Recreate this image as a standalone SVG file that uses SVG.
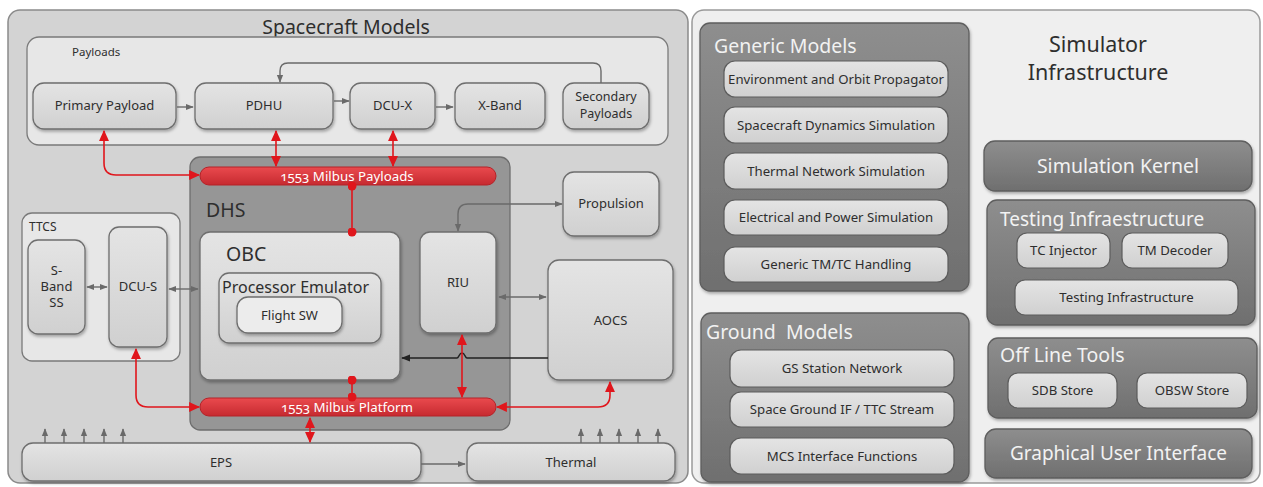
<svg xmlns="http://www.w3.org/2000/svg" width="1263" height="487" viewBox="0 0 1263 487">
  <defs>
    <linearGradient id="gNode" x1="0" y1="0" x2="0" y2="1">
      <stop offset="0" stop-color="#e4e4e4"/>
      <stop offset="1" stop-color="#d0d0d0"/>
    </linearGradient>
    <linearGradient id="gDark" x1="0" y1="0" x2="0" y2="1">
      <stop offset="0" stop-color="#8e8e8e"/>
      <stop offset="1" stop-color="#6f6f6f"/>
    </linearGradient>
    <linearGradient id="gBus" x1="0" y1="0" x2="0" y2="1">
      <stop offset="0" stop-color="#ea4a4e"/>
      <stop offset="1" stop-color="#c62a30"/>
    </linearGradient>
    <filter id="shadow" x="-10%" y="-10%" width="120%" height="130%">
      <feDropShadow dx="1" dy="2" stdDeviation="1.5" flood-color="#000" flood-opacity="0.3"/>
    </filter>
    <marker id="aGray" viewBox="0 0 10 10" refX="9" refY="5" markerWidth="8" markerHeight="8" markerUnits="userSpaceOnUse" orient="auto-start-reverse">
      <path d="M0,1 L10,5 L0,9 z" fill="#6a6a6a"/>
    </marker>
    <marker id="aRed" viewBox="0 0 10 10" refX="9" refY="5" markerWidth="11" markerHeight="11" markerUnits="userSpaceOnUse" orient="auto-start-reverse">
      <path d="M0,0.5 L10,5 L0,9.5 z" fill="#e0161c"/>
    </marker>
    <marker id="aBlack" viewBox="0 0 10 10" refX="9" refY="5" markerWidth="9" markerHeight="9" markerUnits="userSpaceOnUse" orient="auto-start-reverse">
      <path d="M0,1 L10,5 L0,9 z" fill="#222"/>
    </marker>
    <marker id="dotRed" viewBox="0 0 10 10" refX="5" refY="5" markerWidth="9" markerHeight="9" markerUnits="userSpaceOnUse">
      <circle cx="5" cy="5" r="5" fill="#e0161c"/>
    </marker>
  </defs>
  <style>
    text { font-family: "Noto Sans", "Open Sans", sans-serif; fill: #2e2e2e; }
    .panel { fill: #d3d3d3; stroke: #8a8a8a; stroke-width: 1.5; }
    .panelR { fill: #efefef; stroke: #9a9a9a; stroke-width: 1.5; }
    .group { fill: #e7e7e7; stroke: #7a7a7a; stroke-width: 1.3; }
    .node { fill: url(#gNode); stroke: #6e6e6e; stroke-width: 1.3; filter: url(#shadow); }
    .dhs { fill: #969696; stroke: #6e6e6e; stroke-width: 1.3; }
    .dark { fill: url(#gDark); stroke: #5e5e5e; stroke-width: 1.3; filter: url(#shadow); }
    .item { fill: url(#gNode); stroke: #5c5c5c; stroke-width: 1.2; }
    .bus { fill: url(#gBus); stroke: #b52228; stroke-width: 1; }
    .lbl { font-size: 13px; text-anchor: middle; }
    .itm { font-size: 13.2px; text-anchor: middle; }
    .ttl { font-size: 19.5px; }
    .hd { font-size: 19.5px; fill: #f2f2f2; }
    .bt { font-size: 13.3px; fill: #fff; text-anchor: middle; font-variant-numeric: oldstyle-nums; }
    .gray { fill: none; stroke: #6a6a6a; stroke-width: 1.4; }
    .red { fill: none; stroke: #e0161c; stroke-width: 1.6; }
    .blk { fill: none; stroke: #222; stroke-width: 1.4; }
  </style>

  <!-- Spacecraft Models panel -->
  <g id="spacecraft-models">
    <rect class="panel" x="8" y="10" width="680" height="473" rx="12"/>
    <text x="346" y="34" class="ttl" text-anchor="middle">Spacecraft Models</text>
  </g>

  <!-- Payloads group -->
  <g id="payloads">
    <rect class="group" x="27" y="37" width="641" height="108" rx="12"/>
    <text x="72" y="56" font-size="11.5">Payloads</text>
  </g>
  <g id="primary-payload">
    <rect class="node" x="33" y="83" width="143" height="46" rx="11"/>
    <text x="104.5" y="110" class="lbl">Primary Payload</text>
  </g>
  <g id="pdhu">
    <rect class="node" x="195" y="83" width="138" height="46" rx="11"/>
    <text x="264" y="110" class="lbl">PDHU</text>
  </g>
  <g id="dcu-x">
    <rect class="node" x="350" y="83" width="85" height="46" rx="11"/>
    <text x="392.5" y="110" class="lbl">DCU-X</text>
  </g>
  <g id="x-band">
    <rect class="node" x="455" y="83" width="90" height="46" rx="11"/>
    <text x="500" y="110" class="lbl">X-Band</text>
  </g>
  <g id="secondary-payloads">
    <rect class="node" x="563" y="83" width="86" height="46" rx="11"/>
    <text x="606" y="101" font-size="12.5" text-anchor="middle">Secondary</text>
    <text x="606" y="118" font-size="12.5" text-anchor="middle">Payloads</text>
  </g>

  <!-- TTCS group -->
  <g id="ttcs">
    <rect class="group" x="22" y="213" width="158" height="148" rx="10"/>
    <text x="29" y="231" font-size="12">TTCS</text>
  </g>
  <g id="s-band-ss">
    <rect class="node" x="28" y="240" width="57" height="94" rx="10"/>
    <text x="56.5" y="275" class="lbl">S-</text>
    <text x="56.5" y="291" class="lbl">Band</text>
    <text x="56.5" y="307" class="lbl">SS</text>
  </g>
  <g id="dcu-s">
    <rect class="node" x="109" y="227" width="58" height="120" rx="10"/>
    <text x="138" y="291" class="lbl">DCU-S</text>
  </g>

  <!-- DHS -->
  <g id="dhs">
    <rect class="dhs" x="190" y="157" width="320" height="273" rx="10"/>
    <text x="206" y="217" class="ttl">DHS</text>
  </g>
  <g id="milbus-payloads">
    <rect class="bus" x="200" y="167" width="296" height="18" rx="9"/>
    <text x="347" y="181" class="bt">1553 Milbus Payloads</text>
  </g>
  <g id="obc">
    <rect class="node" x="200" y="232" width="200" height="148" rx="10"/>
    <text x="226" y="261" class="ttl">OBC</text>
  </g>
  <g id="processor-emulator">
    <rect class="node" x="219" y="273" width="162" height="70" rx="10"/>
    <text x="222" y="293" font-size="16">Processor Emulator</text>
  </g>
  <g id="flight-sw">
    <rect class="node" x="237" y="297" width="105" height="36" rx="11" style="fill:#ececec"/>
    <text x="289.5" y="320" class="lbl">Flight SW</text>
  </g>
  <g id="riu">
    <rect class="node" x="420" y="232" width="76" height="101" rx="10"/>
    <text x="458" y="287" class="lbl">RIU</text>
  </g>
  <g id="milbus-platform">
    <rect class="bus" x="200" y="398" width="296" height="18" rx="9"/>
    <text x="347" y="412" class="bt">1553 Milbus Platform</text>
  </g>

  <!-- Other subsystems -->
  <g id="propulsion">
    <rect class="node" x="563" y="172" width="96" height="64" rx="11"/>
    <text x="611" y="208" class="lbl">Propulsion</text>
  </g>
  <g id="aocs">
    <rect class="node" x="548" y="260" width="125" height="120" rx="11"/>
    <text x="610.5" y="325" class="lbl">AOCS</text>
  </g>
  <g id="eps">
    <rect class="node" x="22" y="443" width="399" height="38" rx="11"/>
    <text x="221" y="467" class="lbl">EPS</text>
  </g>
  <g id="thermal">
    <rect class="node" x="467" y="443" width="208" height="38" rx="11"/>
    <text x="571" y="467" class="lbl">Thermal</text>
  </g>

  <!-- Connectors -->
  <g id="connectors">
    <!-- payload chain -->
    <path class="gray" d="M177,107 H193" marker-end="url(#aGray)"/>
    <path class="gray" d="M334,101 H349" marker-end="url(#aGray)"/>
    <path class="gray" d="M436,107 H453" marker-end="url(#aGray)"/>
    <path class="gray" d="M601,83 V71 Q601,63 593,63 H288 Q280,63 280,71 V82" marker-end="url(#aGray)"/>
    <!-- payload bus links -->
    <path class="red" d="M104,131 V163 Q104,175 116,175 H199" marker-start="url(#aRed)" marker-end="url(#aRed)"/>
    <path class="red" d="M276,131 V166" marker-start="url(#aRed)" marker-end="url(#aRed)"/>
    <path class="red" d="M393,131 V166" marker-start="url(#aRed)" marker-end="url(#aRed)"/>
    <path class="red" d="M352,186 V232" marker-start="url(#dotRed)" marker-end="url(#dotRed)"/>
    <!-- RIU links -->
    <path class="gray" d="M562,204 H468 Q458,204 458,214 V231" marker-start="url(#aGray)" marker-end="url(#aGray)"/>
    <path class="gray" d="M499,297 H546" marker-start="url(#aGray)" marker-end="url(#aGray)"/>
    <path class="blk" d="M548,358 H467 C465,358 465,353 462,353 C459,353 459,358 457,358 H402" marker-end="url(#aBlack)"/>
    <path class="red" d="M462,335 V397" marker-start="url(#aRed)" marker-end="url(#aRed)"/>
    <!-- platform bus links -->
    <path class="red" d="M352,380 V397" marker-start="url(#dotRed)" marker-end="url(#dotRed)"/>
    <path class="red" d="M136,349 V395 Q136,407 148,407 H199" marker-start="url(#aRed)" marker-end="url(#aRed)"/>
    <path class="red" d="M610,382 V395 Q610,407 598,407 H497" marker-start="url(#aRed)" marker-end="url(#aRed)"/>
    <path class="red" d="M310,418 V442" marker-start="url(#aRed)" marker-end="url(#aRed)"/>
    <!-- TTCS links -->
    <path class="gray" d="M87,287 H107" marker-start="url(#aGray)" marker-end="url(#aGray)"/>
    <path class="gray" d="M169,289 H198" marker-start="url(#aGray)" marker-end="url(#aGray)"/>
    <!-- EPS to Thermal -->
    <path class="gray" d="M421,464 H465" marker-end="url(#aGray)"/>
    <!-- flow ticks above EPS -->
    <path class="gray" d="M45,443 V429" marker-end="url(#aGray)"/>
    <path class="gray" d="M64,443 V429" marker-end="url(#aGray)"/>
    <path class="gray" d="M84,443 V429" marker-end="url(#aGray)"/>
    <path class="gray" d="M104,443 V429" marker-end="url(#aGray)"/>
    <path class="gray" d="M123,443 V429" marker-end="url(#aGray)"/>
    <!-- flow ticks above Thermal -->
    <path class="gray" d="M581,443 V429" marker-end="url(#aGray)"/>
    <path class="gray" d="M600,443 V429" marker-end="url(#aGray)"/>
    <path class="gray" d="M619,443 V429" marker-end="url(#aGray)"/>
    <path class="gray" d="M638,443 V429" marker-end="url(#aGray)"/>
    <path class="gray" d="M658,443 V429" marker-end="url(#aGray)"/>
  </g>

  <!-- Simulator Infrastructure panel -->
  <g id="simulator-infrastructure">
    <rect class="panelR" x="692" y="10" width="568" height="473" rx="12"/>
    <text x="1098" y="52" font-size="21.5" text-anchor="middle">Simulator</text>
    <text x="1098" y="80" font-size="21.5" text-anchor="middle">Infrastructure</text>
  </g>

  <g id="generic-models">
    <rect class="dark" x="700" y="23" width="269" height="268" rx="10"/>
    <text x="714" y="53" class="hd">Generic Models</text>
    <rect class="item" x="724" y="61" width="224" height="36" rx="11"/>
    <text x="836" y="84" class="itm">Environment and Orbit Propagator</text>
    <rect class="item" x="724" y="107" width="224" height="36" rx="11"/>
    <text x="836" y="130" class="itm">Spacecraft Dynamics Simulation</text>
    <rect class="item" x="724" y="153" width="224" height="36" rx="11"/>
    <text x="836" y="176" class="itm">Thermal Network Simulation</text>
    <rect class="item" x="724" y="200" width="224" height="35" rx="11"/>
    <text x="836" y="222" class="itm">Electrical and Power Simulation</text>
    <rect class="item" x="724" y="247" width="224" height="35" rx="11"/>
    <text x="836" y="269" class="itm">Generic TM/TC Handling</text>
  </g>

  <g id="ground-models">
    <rect class="dark" x="701" y="313" width="268" height="169" rx="10"/>
    <text x="706" y="339" class="hd" xml:space="preserve">Ground  Models</text>
    <rect class="item" x="730" y="350" width="224" height="37" rx="11"/>
    <text x="842" y="373" class="itm">GS Station Network</text>
    <rect class="item" x="730" y="392" width="224" height="35" rx="11"/>
    <text x="842" y="414" class="itm">Space Ground IF / TTC Stream</text>
    <rect class="item" x="730" y="438" width="224" height="36" rx="11"/>
    <text x="842" y="461" class="itm">MCS Interface Functions</text>
  </g>

  <g id="simulation-kernel">
    <rect class="dark" x="984" y="141" width="268" height="50" rx="11"/>
    <text x="1118" y="173" class="hd" text-anchor="middle">Simulation Kernel</text>
  </g>

  <g id="testing-infraestructure">
    <rect class="dark" x="987" y="200" width="268" height="125" rx="10"/>
    <text x="1000" y="226" font-size="19" style="fill:#f2f2f2">Testing Infraestructure</text>
    <rect class="item" x="1017" y="233" width="93" height="35" rx="10"/>
    <text x="1063.5" y="255" class="itm">TC Injector</text>
    <rect class="item" x="1122" y="233" width="106" height="35" rx="10"/>
    <text x="1175" y="255" class="itm">TM Decoder</text>
    <rect class="item" x="1015" y="280" width="223" height="35" rx="10"/>
    <text x="1126.5" y="302" class="itm">Testing Infrastructure</text>
  </g>

  <g id="off-line-tools">
    <rect class="dark" x="988" y="338" width="269" height="80" rx="10"/>
    <text x="1000" y="362" class="hd">Off Line Tools</text>
    <rect class="item" x="1008" y="373" width="109" height="35" rx="10"/>
    <text x="1062.5" y="395" class="itm">SDB Store</text>
    <rect class="item" x="1137" y="373" width="110" height="35" rx="10"/>
    <text x="1192" y="395" class="itm">OBSW Store</text>
  </g>

  <g id="graphical-user-interface">
    <rect class="dark" x="985" y="429" width="267" height="49" rx="11"/>
    <text x="1118.5" y="460" font-size="19" text-anchor="middle" style="fill:#f2f2f2">Graphical User Interface</text>
  </g>
</svg>
